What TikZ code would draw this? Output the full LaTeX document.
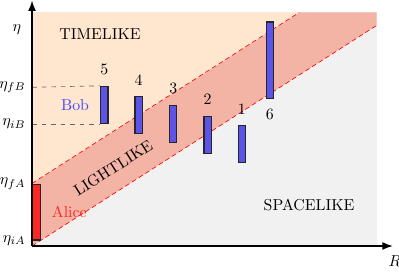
\documentclass[tikz,border=0pt]{standalone}
\usepackage{amsmath,amssymb}
\usepackage{xcolor}
\usepackage{tikz}
\usetikzlibrary{arrows.meta,positioning,calc}

\definecolor{timefill}{RGB}{255,230,207}
\definecolor{lightfill}{RGB}{243,180,165}
\definecolor{spacefill}{RGB}{241,241,241}
\definecolor{barblue}{RGB}{92,84,232}
\definecolor{alicered}{RGB}{255,38,38}
\definecolor{bobblue}{RGB}{70,70,250}

\begin{document}
\begin{tikzpicture}[
    node distance=0.12cm and 0.1cm,
    bar/.style={rectangle, draw=black!85, thick, fill=barblue, inner sep=0pt, minimum width=0.16cm, minimum height=0.82cm},
    cone/.style={red, densely dashed, line width=0.4pt},
    axis/.style={-Latex, thick},
    region/.style={font=\normalsize}
]
    \useasboundingbox (-0.711,-0.577) rectangle (8.147,5.461);

    % regions
    \fill [spacefill] (0,0) rectangle (7.652,5.184);
    \fill [lightfill] (0,0) -- (7.652,4.897) -- (7.652,5.184) -- (5.93,5.184) -- (0,1.39) -- cycle;
    \fill [timefill] (0,1.39) -- (5.93,5.184) -- (0,5.184) -- cycle;
    \draw [cone] (0,0) -- (7.652,4.897);
    \draw [cone] (0,1.39) -- (5.93,5.184);

    \node [region] (time) at (1.51,4.706) {TIMELIKE};
    \node [region] (space) at (6.15,0.91) {SPACELIKE};
    \node [region, rotate=32.6] (light) at (1.8,1.73) {LIGHTLIKE};

    % Alice
    \node [bar, fill=alicered, minimum width=0.17cm, minimum height=1.24cm, anchor=south west] (alice) at (0,0.118) {};
    \node [alicered, right=0.12cm of alice] (alabel) {Alice};

    % Bob and the other observers
    \node [bar, anchor=south west] (b5) at (1.51,2.708) {};
    \node [bar, anchor=south west] (b4) at (2.271,2.48) {};
    \node [bar, anchor=south west] (b3) at (3.041,2.28) {};
    \node [bar, anchor=south west] (b2) at (3.803,2.042) {};
    \node [bar, anchor=south west] (b1) at (4.566,1.836) {};
    \node [bar, anchor=south west, minimum height=1.70cm] (b6) at (5.188,3.257) {};
    \node [bobblue, left=0.12cm of b5] (blabel) {Bob};

    \foreach \b in {1,...,5}
        \node [above=0.12cm of b\b] (n\b) {\b};
    \node [below=0.1cm of b6] (n6) {6};

    % time labels
    \coordinate (yfB) at (0,3.523);
    \coordinate (yiB) at (0,2.708);
    \draw [dashed, gray!80!black] (yfB) -- (b5.north west);
    \draw [dashed, gray!80!black] (yiB) -- (b5.south west);
    \node [left=0.02cm of yfB] (efB) {$\eta_{fB}$};
    \node [left=0.02cm of yiB] (eiB) {$\eta_{iB}$};
    \node [left=0.02cm of alice.north west] (efA) {$\eta_{fA}$};
    \node [left=0.02cm of alice.south west] (eiA) {$\eta_{iA}$};

    % axes
    \coordinate (o) at (0,0);
    \coordinate (xend) at (8.01,0);
    \coordinate (yend) at (0,5.45);
    \draw [axis] (o) -- (xend);
    \draw [axis] (o) -- (yend);
    \node [left=0.12cm of {(0,4.8)}] (eta) {$\eta$};
    \node [below left=0.08cm and -0.3cm of xend] (r) {$R$};
\end{tikzpicture}
\end{document}
